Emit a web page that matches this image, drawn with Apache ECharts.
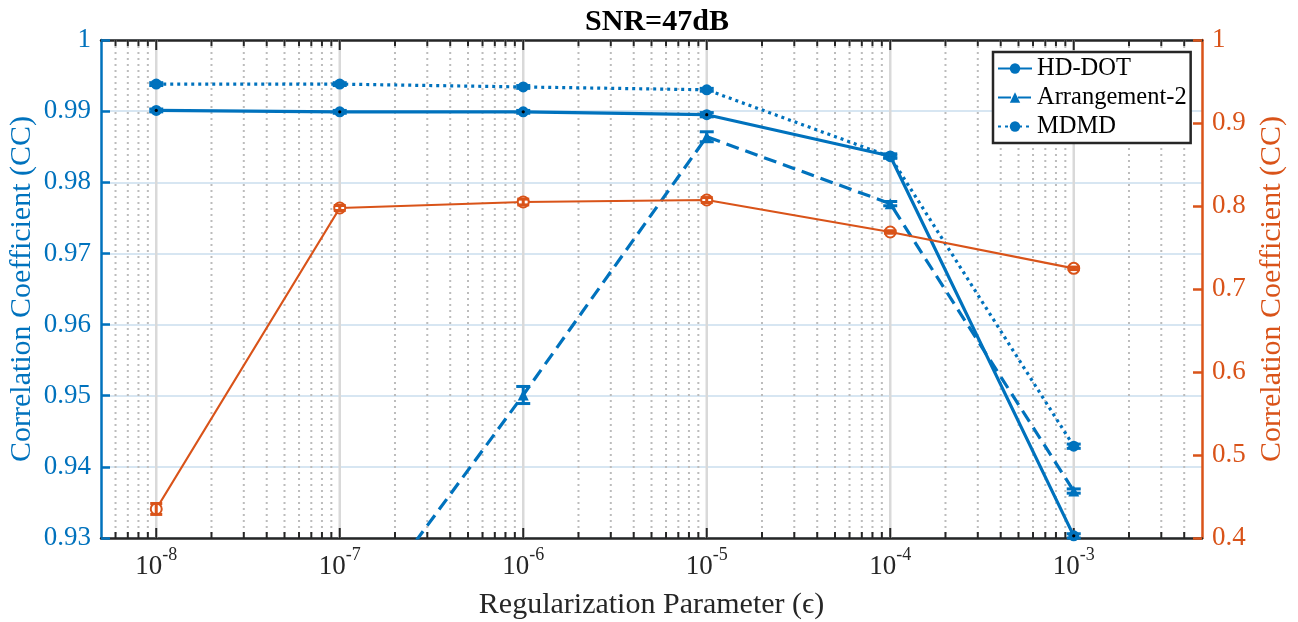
<!DOCTYPE html>
<html>
<head>
<meta charset="utf-8">
<script src="https://cdn.jsdelivr.net/npm/echarts@6/dist/echarts.min.js"></script>
<style>
  html, body { margin: 0; padding: 0; background: #ffffff; }
  #chart { width: 1298px; height: 622px; }
</style>
</head>
<body>
<div id="chart"></div>
<script>
// Regularization parameter values (x positions, log scale)
const epsilon = [1e-8, 1e-7, 1e-6, 1e-5, 1e-4, 1e-3];

// Left-axis series: correlation coefficient
const hdDot        = [0.9901, 0.9899, 0.9899, 0.9895, 0.9837, 0.9303];
const hdDotErr     = [0.0002, 0.0002, 0.0002, 0.0003, 0.0003, 0.0003];
const arrangement2 = [0.9000, 0.9150, 0.9501, 0.9864, 0.9770, 0.9366];
const arrangement2Err = [0.0010, 0.0010, 0.0012, 0.0007, 0.0003, 0.0003];
const mdmd         = [0.9938, 0.9938, 0.9934, 0.9930, 0.9836, 0.9429];
const mdmdErr      = [0.0002, 0.0002, 0.0002, 0.0002, 0.0002, 0.0003];

// Right-axis series: correlation coefficient
const rightCC      = [0.435, 0.7976, 0.8048, 0.8072, 0.7687, 0.7249];
const rightCCErr   = [0.0066, 0.0030, 0.0035, 0.0030, 0.0015, 0.0015];

// Axis ranges and ticks
const xRange = [5e-9, 5e-3];
const leftRange = [0.93, 1.0];
const leftStep = 0.01;
const rightRange = [0.4, 1.0];
const rightStep = 0.1;
const decades = [-9, -8, -7, -6, -5, -4, -3];

const BLUE = '#0072BD';
const ORANGE = '#D95319';
const INK = '#262626';
const FONT = '"Liberation Serif", "Times New Roman", "DejaVu Serif", serif';

// Major (10^n) and minor (k*10^n) positions for the log grid and ticks
const logGridValues = [];
decades.forEach(function (n) {
  for (let k = 1; k <= 9; k++) {
    const v = k * Math.pow(10, n);
    if (v > xRange[0] * 1.0001 && v < xRange[1] * 0.9999) logGridValues.push([v, 0.95]);
  }
});

function isDecade(v) {
  const l = Math.log10(v);
  return Math.abs(l - Math.round(l)) < 1e-6;
}

function renderLogGrid(params, api) {
  const v = api.value(0);
  const cs = params.coordSys;
  const x = api.coord([v, 0.95])[0];
  const major = isDecade(v);
  const bottom = cs.y + cs.height;
  const len = major ? 10 : 6;
  const children = [
    {
      type: 'line',
      shape: { x1: x, y1: cs.y, x2: x, y2: bottom },
      style: major
        ? { stroke: '#d9d9d9', lineWidth: 2.5 }
        : { stroke: '#bcbcbc', lineWidth: 2, lineDash: [2, 4] }
    },
    { type: 'line', shape: { x1: x, y1: bottom, x2: x, y2: bottom - len }, style: { stroke: INK, lineWidth: 2 } },
    { type: 'line', shape: { x1: x, y1: cs.y, x2: x, y2: cs.y + len }, style: { stroke: INK, lineWidth: 2 } }
  ];
  return { type: 'group', children: children };
}

function errorBarRenderer(color, capHalf, withDot) {
  return function (params, api) {
    const x = api.value(0), y = api.value(1), e = api.value(2);
    const cs = params.coordSys;
    const c = api.coord([x, y]);
    if (c[1] > cs.y + cs.height + 1 || c[1] < cs.y - 1) return;
    const hi = api.coord([x, y + e]);
    const lo = api.coord([x, y - e]);
    const st = { stroke: color, lineWidth: 3 };
    const children = [
      { type: 'line', shape: { x1: c[0], y1: hi[1], x2: c[0], y2: lo[1] }, style: st },
      { type: 'line', shape: { x1: c[0] - capHalf, y1: hi[1], x2: c[0] + capHalf, y2: hi[1] }, style: st },
      { type: 'line', shape: { x1: c[0] - capHalf, y1: lo[1], x2: c[0] + capHalf, y2: lo[1] }, style: st }
    ];
    if (withDot) {
      children.push({ type: 'circle', shape: { cx: c[0], cy: c[1], r: 1.6 }, style: { fill: '#000' } });
    }
    return { type: 'group', children: children };
  };
}

function pairs(ys) { return epsilon.map(function (x, i) { return [x, ys[i]]; }); }
function triples(ys, es) { return epsilon.map(function (x, i) { return [x, ys[i], es[i]]; }); }

function errorSeries(ys, es, axisIndex, color, capHalf, withDot) {
  return {
    type: 'custom',
    coordinateSystem: 'cartesian2d',
    yAxisIndex: axisIndex,
    data: triples(ys, es),
    encode: { x: 0, y: 1 },
    renderItem: errorBarRenderer(color, capHalf, withDot),
    silent: true,
    z: 4
  };
}

const chart = echarts.init(document.getElementById('chart'), null, { renderer: 'canvas' });

chart.setOption({
  animation: false,
  backgroundColor: '#ffffff',
  title: {
    text: 'SNR=47dB',
    left: 652,
    top: 2,
    textAlign: 'center',
    textStyle: { fontFamily: FONT, fontWeight: 'bold', fontSize: 30, color: '#000' }
  },
  grid: { left: 101, right: 96, top: 40, bottom: 84, containLabel: false, outerBoundsMode: 'none' },
  legend: {
    data: ['HD-DOT', 'Arrangement-2', 'MDMD'],
    orient: 'vertical',
    left: 993,
    top: 52,
    backgroundColor: '#ffffff',
    borderColor: INK,
    borderWidth: 2.5,
    borderRadius: 0,
    padding: [4, 4, 4, 4],
    itemWidth: 34,
    itemHeight: 13,
    itemGap: 4,
    textStyle: { fontFamily: FONT, fontSize: 24.5, color: '#000' }
  },
  xAxis: [
    {
      type: 'log',
      logBase: 10,
      min: xRange[0],
      max: xRange[1],
      position: 'bottom',
      axisLine: { show: true, lineStyle: { color: INK, width: 2.5 } },
      axisTick: { show: false },
      minorTick: { show: false },
      splitLine: { show: false },
      axisLabel: {
        margin: 8,
        color: INK,
        formatter: function (v) {
          if (!isDecade(v)) return '';
          return '{b|10}{s|' + Math.round(Math.log10(v)) + '}';
        },
        rich: {
          b: { fontFamily: FONT, fontSize: 27, color: INK, verticalAlign: 'bottom', lineHeight: 34 },
          s: { fontFamily: FONT, fontSize: 18, color: INK, verticalAlign: 'top', lineHeight: 18 }
        }
      },
      name: 'Regularization Parameter (\u03F5)',
      nameLocation: 'middle',
      nameGap: 52,
      nameMoveOverlap: false,
      nameTextStyle: { fontFamily: FONT, fontSize: 30, color: INK }
    },
    {
      type: 'log',
      logBase: 10,
      min: xRange[0],
      max: xRange[1],
      position: 'top',
      axisLine: { show: true, lineStyle: { color: INK, width: 2.5 } },
      axisTick: { show: false },
      axisLabel: { show: false },
      splitLine: { show: false }
    }
  ],
  yAxis: [
    {
      type: 'value',
      min: leftRange[0],
      max: leftRange[1],
      interval: leftStep,
      position: 'left',
      axisLine: { show: true, lineStyle: { color: BLUE, width: 2.5 } },
      axisTick: { show: true, inside: true, length: 9, lineStyle: { color: BLUE, width: 2.5 } },
      axisLabel: {
        color: BLUE, fontFamily: FONT, fontSize: 27, margin: 10,
        formatter: function (v) { return v > 0.9999 ? '1' : v.toFixed(2); }
      },
      splitLine: { show: true, lineStyle: { color: '#d7e6f2', width: 2 } },
      name: 'Correlation Coefficient (CC)',
      nameLocation: 'middle',
      nameRotate: 90,
      nameGap: 64,
      nameMoveOverlap: false,
      nameTextStyle: { fontFamily: FONT, fontSize: 30, color: BLUE }
    },
    {
      type: 'value',
      min: rightRange[0],
      max: rightRange[1],
      interval: rightStep,
      position: 'right',
      axisLine: { show: true, lineStyle: { color: ORANGE, width: 2.5 } },
      axisTick: { show: true, inside: true, length: 9, lineStyle: { color: ORANGE, width: 2.5 } },
      axisLabel: {
        color: ORANGE, fontFamily: FONT, fontSize: 27, margin: 10,
        formatter: function (v) { return v > 0.9999 ? '1' : v.toFixed(1); }
      },
      splitLine: { show: false },
      name: 'Correlation Coefficient (CC)',
      nameLocation: 'middle',
      nameRotate: 90,
      nameGap: 55,
      nameMoveOverlap: false,
      nameTextStyle: { fontFamily: FONT, fontSize: 30, color: ORANGE }
    }
  ],
  series: [
    {
      type: 'custom',
      coordinateSystem: 'cartesian2d',
      data: logGridValues,
      encode: { x: 0, y: 1 },
      renderItem: renderLogGrid,
      silent: true,
      z: 1
    },
    {
      name: 'HD-DOT',
      type: 'line',
      data: pairs(hdDot),
      symbol: 'circle',
      symbolSize: 11,
      lineStyle: { color: BLUE, width: 3.2, type: 'solid' },
      itemStyle: { color: BLUE },
      z: 3
    },
    {
      name: 'Arrangement-2',
      type: 'line',
      data: pairs(arrangement2),
      symbol: 'triangle',
      symbolSize: 11,
      lineStyle: { color: BLUE, width: 3.2, type: [13, 7] },
      itemStyle: { color: BLUE },
      z: 3
    },
    {
      name: 'MDMD',
      type: 'line',
      data: pairs(mdmd),
      symbol: 'circle',
      symbolSize: 11,
      lineStyle: { color: BLUE, width: 3.2, type: [3, 4] },
      itemStyle: { color: BLUE },
      z: 3
    },
    {
      name: 'CC (right)',
      type: 'line',
      yAxisIndex: 1,
      data: pairs(rightCC),
      symbol: 'emptyCircle',
      symbolSize: 11,
      lineStyle: { color: ORANGE, width: 2.2 },
      itemStyle: { color: ORANGE, borderColor: ORANGE, borderWidth: 2.2 },
      z: 3
    },
    errorSeries(hdDot, hdDotErr, 0, BLUE, 7, true),
    errorSeries(arrangement2, arrangement2Err, 0, BLUE, 7, false),
    errorSeries(mdmd, mdmdErr, 0, BLUE, 7, false),
    errorSeries(rightCC, rightCCErr, 1, ORANGE, 6, false)
  ]
});
</script>
</body>
</html>
